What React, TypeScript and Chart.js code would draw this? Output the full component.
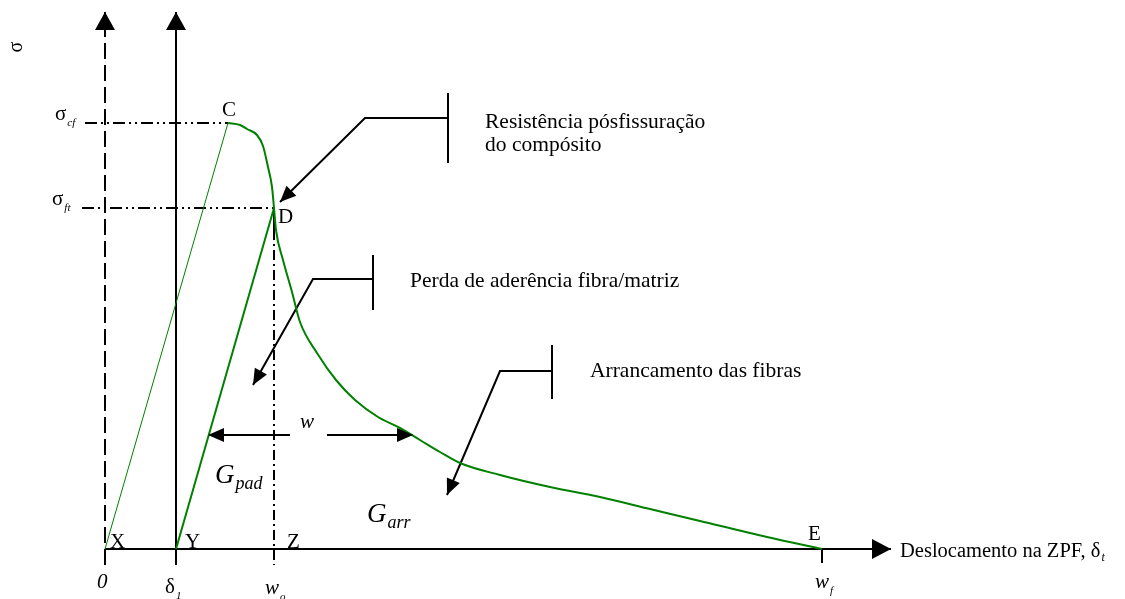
import { useEffect, useRef } from "react";
import { Chart, registerables } from "chart.js";

Chart.register(...registerables);

// Characteristic abscissae (crack opening) and ordinates (stress), schematic units
const ORIGIN_X = 0;
const DELTA_1 = 7.1;
const W_O = 16.9;
const W_F = 71.7;
const PEAK_X = 12.3;
const SIGMA_CF = 42.6;
const SIGMA_FT = 34.1;

// Axis extents
const AXIS_TOP = 53.7;
const AXIS_BOTTOM = -1.6;
const AXIS_RIGHT = 78.6;
const SIGMA_LINE_START = [-2.0, -2.3];

// Softening branch C -> D -> E
const softX = [12.3, 13.5, 14.2, 15.2, 15.8, 16.3, 16.7, 16.9, 17.1, 17.8, 18.7, 19.5, 21.2, 23.1, 25.0, 27.3, 29.5, 31.5, 33.5, 35.5, 39.5, 44.5, 49.5, 54.5, 59.5, 66.2, 71.7];
const softY = [42.6, 42.4, 42.0, 41.4, 40.3, 38.2, 36.2, 34.1, 31.9, 28.9, 25.7, 22.7, 19.6, 16.9, 14.9, 13.2, 12.1, 10.9, 9.7, 8.6, 7.4, 6.2, 5.2, 4.0, 2.8, 1.2, 0];

// Callout leaders: [x, y] vertices, the arrow sits on the last vertex
const resistBar = [[34.3, 45.6], [34.3, 38.6]];
const resistLeader = [[34.3, 43.1], [26.0, 43.1], [17.5, 34.7]];
const perdaBar = [[26.8, 29.4], [26.8, 23.9]];
const perdaLeader = [[26.8, 27.0], [20.8, 27.0], [14.8, 16.4]];
const arrBar = [[44.7, 20.4], [44.7, 15.0]];
const arrLeader = [[44.7, 17.8], [39.5, 17.8], [34.2, 5.4]];
const wLeft = [[18.5, 11.4], [10.3, 11.4]];
const wRight = [[22.2, 11.4], [30.8, 11.4]];

// Text labels: [text, x, y, subscript]
const pointLabels: [string, number, number][] = [
  ["C", 11.7, 43.3],
  ["D", 17.3, 32.6],
  ["X", 0.5, 0.1],
  ["Y", 8.0, 0.1],
  ["Z", 18.2, 0.1],
  ["E", 70.3, 0.9],
];
const symbolLabels: [string, number, number, string][] = [
  ["σ", -5.0, 42.9, "cf"],
  ["σ", -5.3, 34.4, "ft"],
  ["δ", 6.0, -4.4, "1"],
];
const italicLabels: [string, number, number, string][] = [
  ["0", -0.8, -3.9, ""],
  ["w", 16.0, -4.5, "o"],
  ["w", 71.0, -3.9, "f"],
  ["w", 19.5, 12.1, ""],
];
const energyLabels: [string, number, number, string][] = [
  ["G", 11.0, 6.6, "pad"],
  ["G", 26.2, 2.7, "arr"],
];
const noteLabels: [string, number, number][] = [
  ["Resistência pósfissuração", 38.0, 42.1],
  ["do compósito", 38.0, 39.8],
  ["Perda de aderência fibra/matriz", 30.5, 26.2],
  ["Arrancamento das fibras", 48.5, 17.2],
];
const xAxisTitle = ["Deslocamento na ZPF, δ", "t"];
const yAxisTitle = "σ";
const yTitlePos = [-8.8, 50.2];

const SERIF = '"Liberation Serif", "Times New Roman", serif';
const GREEN = "#008000";
const BLACK = "#000000";

const pts = (list: number[][]) => list.map(([x, y]) => ({ x, y }));

type Arrow = { len: number; half: number };

function line(data: { x: number; y: number }[], opts: Record<string, unknown> = {}) {
  return {
    data,
    showLine: true,
    pointRadius: 0,
    borderColor: BLACK,
    borderWidth: 2,
    fill: false,
    ...opts,
  };
}

const arrowPlugin = {
  id: "arrowHeads",
  afterDatasetsDraw(chart: any) {
    const { ctx, scales } = chart;
    chart.data.datasets.forEach((ds: any) => {
      const a: Arrow | undefined = ds.arrow;
      if (!a) return;
      const n = ds.data.length;
      const p1 = ds.data[n - 2];
      const p2 = ds.data[n - 1];
      const x1 = scales.x.getPixelForValue(p1.x);
      const y1 = scales.y.getPixelForValue(p1.y);
      const x2 = scales.x.getPixelForValue(p2.x);
      const y2 = scales.y.getPixelForValue(p2.y);
      const ang = Math.atan2(y2 - y1, x2 - x1);
      ctx.save();
      ctx.fillStyle = ds.borderColor;
      ctx.beginPath();
      ctx.moveTo(x2, y2);
      ctx.lineTo(
        x2 - a.len * Math.cos(ang) + a.half * Math.sin(ang),
        y2 - a.len * Math.sin(ang) - a.half * Math.cos(ang)
      );
      ctx.lineTo(
        x2 - a.len * Math.cos(ang) - a.half * Math.sin(ang),
        y2 - a.len * Math.sin(ang) + a.half * Math.cos(ang)
      );
      ctx.closePath();
      ctx.fill();
      ctx.restore();
    });
  },
};

function drawText(
  ctx: CanvasRenderingContext2D,
  text: string,
  px: number,
  py: number,
  font: string,
  sub?: string,
  subFont?: string,
  subDrop = 6
) {
  ctx.font = font;
  ctx.fillText(text, px, py);
  if (sub) {
    const w = ctx.measureText(text).width;
    ctx.font = subFont || `italic 12px ${SERIF}`;
    ctx.fillText(sub, px + w + 1, py + subDrop);
  }
}

const labelPlugin = {
  id: "labels",
  afterDraw(chart: any) {
    const { ctx, scales } = chart;
    const X = (v: number) => scales.x.getPixelForValue(v);
    const Y = (v: number) => scales.y.getPixelForValue(v);
    ctx.save();
    ctx.fillStyle = BLACK;
    ctx.textBaseline = "alphabetic";
    ctx.textAlign = "left";
    pointLabels.forEach(([t, x, y]) => drawText(ctx, t, X(x), Y(y), `21px ${SERIF}`));
    symbolLabels.forEach(([t, x, y, s]) =>
      drawText(ctx, t, X(x), Y(y), `21px ${SERIF}`, s, `italic 11px ${SERIF}`, 6)
    );
    italicLabels.forEach(([t, x, y, s]) =>
      drawText(ctx, t, X(x), Y(y), `italic 21px ${SERIF}`, s, `italic 11px ${SERIF}`, 6)
    );
    energyLabels.forEach(([t, x, y, s]) =>
      drawText(ctx, t, X(x), Y(y), `italic 27px ${SERIF}`, s, `italic 18px ${SERIF}`, 6)
    );
    noteLabels.forEach(([t, x, y]) => drawText(ctx, t, X(x), Y(y), `21.5px ${SERIF}`));
    drawText(
      ctx,
      xAxisTitle[0],
      X(79.5),
      Y(-0.8),
      `20.5px ${SERIF}`,
      xAxisTitle[1],
      `italic 12px ${SERIF}`,
      4
    );
    // rotated stress symbol, like a vertical axis title
    ctx.translate(X(yTitlePos[0]), Y(yTitlePos[1]));
    ctx.rotate(-Math.PI / 2);
    ctx.textAlign = "center";
    ctx.textBaseline = "middle";
    ctx.font = `20px ${SERIF}`;
    ctx.fillText(yAxisTitle, 0, 0);
    ctx.restore();
  },
};

export default function App() {
  const canvasRef = useRef<HTMLCanvasElement | null>(null);

  useEffect(() => {
    if (!canvasRef.current) return;
    const axisArrow: Arrow = { len: 18, half: 10 };
    const noteArrow: Arrow = { len: 16, half: 7 };
    const dashDotDot = [12, 4, 2, 4, 2, 4];
    const dashDot = [10, 4, 2, 4];

    const chart = new Chart(canvasRef.current, {
      type: "scatter",
      data: {
        datasets: [
          // softening curve
          line(pts(softX.map((x, i) => [x, softY[i]])), {
            borderColor: GREEN,
            borderWidth: 2,
            cubicInterpolationMode: "monotone",
          }),
          // elastic branches
          line(pts([[ORIGIN_X, 0], [PEAK_X, SIGMA_CF]]), { borderColor: GREEN, borderWidth: 1 }),
          line(pts([[DELTA_1, 0], [W_O, SIGMA_FT]]), { borderColor: GREEN, borderWidth: 2 }),
          // axes
          line(pts([[ORIGIN_X, AXIS_BOTTOM], [ORIGIN_X, AXIS_TOP]]), {
            borderDash: [16, 6],
            arrow: axisArrow,
          }),
          line(pts([[DELTA_1, AXIS_BOTTOM], [DELTA_1, AXIS_TOP]]), { arrow: axisArrow }),
          line(pts([[ORIGIN_X, 0], [AXIS_RIGHT, 0]]), { arrow: { len: 19, half: 10 } }),
          line(pts([[W_F, 0], [W_F, -1.4]])),
          // reference lines
          line(pts([[W_O, SIGMA_FT], [W_O, 31.9]])),
          line(pts([[W_O, 31.9], [W_O, AXIS_BOTTOM]]), { borderDash: dashDot }),
          line(pts([[SIGMA_LINE_START[0], SIGMA_CF], [PEAK_X, SIGMA_CF]]), { borderDash: dashDotDot }),
          line(pts([[SIGMA_LINE_START[1], SIGMA_FT], [W_O, SIGMA_FT]]), { borderDash: dashDotDot }),
          // callouts
          line(pts(resistBar)),
          line(pts(resistLeader), { arrow: noteArrow }),
          line(pts(perdaBar)),
          line(pts(perdaLeader), { arrow: noteArrow }),
          line(pts(arrBar)),
          line(pts(arrLeader), { arrow: noteArrow }),
          line(pts(wLeft), { arrow: noteArrow }),
          line(pts(wRight), { arrow: noteArrow }),
        ] as any,
      },
      options: {
        animation: false,
        responsive: true,
        maintainAspectRatio: false,
        layout: { padding: 0 },
        plugins: {
          legend: { display: false },
          tooltip: { enabled: false },
          title: { display: false },
        },
        events: [],
        scales: {
          x: { type: "linear", min: -10.5, max: 102.0, display: false },
          y: { type: "linear", min: -5.0, max: 54.9, display: false },
        },
      },
      plugins: [arrowPlugin, labelPlugin],
    });
    return () => chart.destroy();
  }, []);

  return (
    <div
      style={{
        position: "fixed",
        left: 0,
        top: 0,
        width: "1125px",
        height: "599px",
        background: "#ffffff",
      }}
    >
      <canvas ref={canvasRef} />
    </div>
  );
}
